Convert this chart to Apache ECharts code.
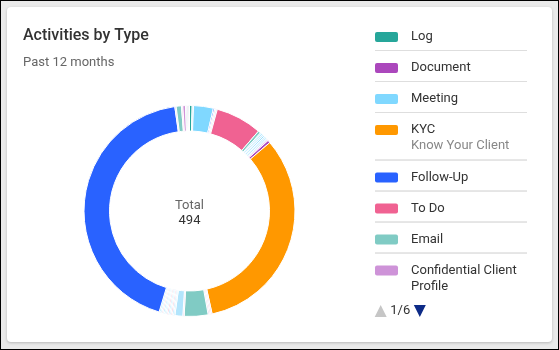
<!DOCTYPE html>
<html>
<head>
<meta charset="utf-8">
<script src="https://cdn.jsdelivr.net/npm/echarts@6/dist/echarts.min.js"></script>
<style>
  html, body { margin: 0; padding: 0; }
  body {
    width: 559px; height: 350px; box-sizing: border-box;
    border: 1px solid #000; background: #eaeaea; position: relative; overflow: hidden;
  }
  #card {
    position: absolute; left: 6px; top: 6px; width: 545px; height: 335px;
    background: #fff; border-radius: 4px;
    box-shadow: 0 1px 3px rgba(0,0,0,0.22);
  }
</style>
</head>
<body>
<div id="card"></div>
<script>
// Activity types, clockwise from 12 o'clock, with counts for the past 12 months
const categories = [
  'Log', 'Call', 'Meeting', 'Task', 'Note', 'Letter', 'To Do', 'Review',
  'Appointment', 'Birthday', 'Complaint', 'Referral', 'Onboarding', 'Compliance', 'Proposal', 'Renewal',
  'Document', 'KYC', 'Statement', 'Trade', 'Transfer', 'Email', 'Webinar', 'Seminar',
  'Survey', 'Voicemail', 'Video Call', 'SMS', 'Fax', 'Annual Review', 'Portfolio Review', 'Risk Profile',
  'Financial Plan', 'Tax Planning', 'Estate Planning', 'Account Opening', 'Follow-Up', 'Service Request',
  'Client Visit', 'Prospecting', 'Confidential Client Profile', 'Introduction', 'Event', 'Address Change'
];
const values = [
  2, 1, 15, 1, 1, 1, 35, 2,
  1, 1, 1, 1, 1, 1, 1, 1,
  2, 162, 1, 1, 1, 18, 1, 6,
  1, 1, 1, 1, 1, 1, 1, 1,
  1, 1, 1, 1, 213, 1,
  4, 1, 2, 1, 1, 1
];
const sliceColors = [
  '#26a69a', '#b3e5fc', '#80d8ff', '#2962ff', '#f8bbd0', '#b3e5fc', '#f06292', '#80cbc4',
  '#b3e5fc', '#80d8ff', '#b3e5fc', '#80d8ff', '#b3e5fc', '#80d8ff', '#b3e5fc', '#e1bee7',
  '#ab47bc', '#ff9800', '#e1bee7', '#f8bbd0', '#e1bee7', '#80cbc4', '#e1bee7', '#b3e5fc',
  '#b3e5fc', '#80d8ff', '#f48fb1', '#b3e5fc', '#80d8ff', '#f48fb1', '#b3e5fc', '#b3e5fc',
  '#80d8ff', '#f8bbd0', '#b3e5fc', '#80d8ff', '#2962ff', '#e1bee7',
  '#80cbc4', '#e1bee7', '#ce93d8', '#b2dfdb', '#e1bee7', '#b2dfdb'
];
// Legend order: main types first, then the rest as they appear in the ring
const legendLead = ['Log', 'Document', 'Meeting', 'KYC', 'Follow-Up', 'To Do', 'Email', 'Confidential Client Profile'];
const legendNotes = { 'KYC': 'Know Your Client' };

const FONT = 'Roboto, "Noto Sans", sans-serif';
const legendNames = legendLead.concat(categories.filter(c => legendLead.indexOf(c) < 0));
const colorOf = {};
categories.forEach((c, i) => { colorOf[c] = sliceColors[i]; });
const total = values.reduce((a, b) => a + b, 0);

const cx = 182.5, cy = 204;
const SP = 96; // leading room in every legend row

const rich = {
  sp: { width: SP, height: 0, lineHeight: 0 },
  g: { width: 13, lineHeight: 16 },
  g2: { width: 36, lineHeight: 16 },
  n: { fontSize: 13, color: '#333', fontFamily: FONT, lineHeight: 16 },
  s: { fontSize: 13, color: '#888', fontFamily: FONT, lineHeight: 16 },
  hr: { width: 152, height: 0, lineHeight: 11, borderColor: '#dedede', borderWidth: 1 },
  hr2: { width: 152, height: 0, lineHeight: 12, borderColor: '#dedede', borderWidth: 1 }
};
legendNames.forEach((nm, i) => {
  rich['c' + i] = { width: 23, height: 10, lineHeight: 16, backgroundColor: colorOf[nm], borderRadius: 2 };
});

function wrapName(name) {
  if (name.length <= 20) return [name];
  const cut = name.lastIndexOf(' ', 20);
  return [name.slice(0, cut), name.slice(cut + 1)];
}

function legendLabel(name) {
  const i = legendNames.indexOf(name);
  const parts = wrapName(name);
  const rows = ['{sp|}{c' + i + '|}{g|}{n|' + parts[0] + '}'];
  for (let k = 1; k < parts.length; k++) rows.push('{sp|}{g2|}{n|' + parts[k] + '}');
  if (legendNotes[name]) rows.push('{sp|}{g2|}{s|' + legendNotes[name] + '}');
  rows.push(rows.length > 1 ? '{sp|}{hr2|}' : '{sp|}{hr|}');
  return rows.join('\n');
}

const chart = echarts.init(document.getElementById('card'), null, { renderer: 'canvas' });
chart.setOption({
  animation: false,
  backgroundColor: 'transparent',
  title: [
    { text: 'Activities by Type', left: 16, top: 19, padding: 0,
      textStyle: { fontFamily: FONT, fontSize: 16, fontWeight: 500, color: '#333', lineHeight: 20 } },
    { text: 'Past 12 months', left: 16, top: 48, padding: 0,
      textStyle: { fontFamily: FONT, fontSize: 13, fontWeight: 400, color: '#666', lineHeight: 16 } }
  ],
  graphic: [
    { type: 'text', x: cx, y: cy - 5, silent: true,
      style: { text: 'Total', align: 'center', verticalAlign: 'middle', font: '13px ' + FONT, fill: '#666' } },
    { type: 'text', x: cx, y: cy + 10, silent: true,
      style: { text: String(total), align: 'center', verticalAlign: 'middle', font: '13px ' + FONT, fill: '#333' } }
  ],
  legend: {
    type: 'scroll', orient: 'vertical',
    left: 266, top: 23.5, height: 287, padding: 0,
    itemWidth: 0, itemHeight: 0, itemGap: 4.5,
    itemStyle: { opacity: 0 },
    data: legendNames,
    formatter: legendLabel,
    textStyle: { fontFamily: FONT, fontSize: 13, color: '#333', rich: rich },
    pageButtonPosition: 'end', pageButtonGap: 7, pageButtonItemGap: -2,
    pageIconColor: '#0d2b87', pageIconInactiveColor: '#c6c6c6', pageIconSize: 12,
    pageTextStyle: { color: '#333', fontSize: 13, fontFamily: FONT },
    pageFormatter: '{current}/{total}'
  },
  series: [{
    type: 'pie',
    center: [cx, cy],
    radius: [80, 105.5],
    startAngle: 90,
    clockwise: true,
    avoidLabelOverlap: false,
    label: { show: false },
    labelLine: { show: false },
    itemStyle: { borderColor: '#fff', borderWidth: 1 },
    data: categories.map((c, i) => ({ name: c, value: values[i], itemStyle: { color: sliceColors[i] } }))
  }]
});
</script>
</body>
</html>
